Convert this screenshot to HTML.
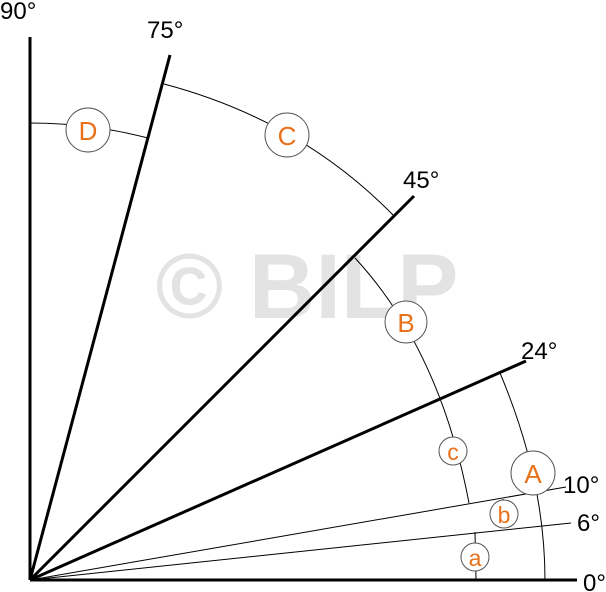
<!DOCTYPE html>
<html><head><style>
body{margin:0;background:#fff;}
svg{display:block;font-family:"Liberation Sans",sans-serif;}
</style></head><body>
<svg width="606" height="592" viewBox="0 0 606 592">
<text x="307" y="318" font-size="92" font-weight="bold" fill="#e3e3e3" text-anchor="middle">© BILP</text>
<g stroke="#000" fill="none" stroke-width="1">
<path d="M30,123 Q90,123 148,138"/>
<path d="M164,84 Q300,120 393,215"/>
<path d="M355,258 Q440,350 469,503"/>
<path d="M500,373 Q545,480 545,580"/>
<line x1="30" y1="580" x2="566" y2="487"/>
<line x1="30" y1="580" x2="571" y2="523"/>
<line x1="503" y1="499" x2="503" y2="527"/>
<line x1="475" y1="532" x2="476" y2="580"/>
</g>
<g stroke="#000" stroke-width="3" fill="none">
<line x1="30" y1="580" x2="30" y2="37"/>
<line x1="30" y1="580" x2="577" y2="580"/>
<line x1="30" y1="580" x2="170" y2="55"/>
<line x1="30" y1="580" x2="414" y2="196"/>
<line x1="30" y1="580" x2="526" y2="361"/>
</g>
<g fill="#fff" stroke="#555" stroke-width="1">
<circle cx="88" cy="130" r="22"/>
<circle cx="287" cy="135" r="22"/>
<circle cx="406" cy="322" r="21"/>
<circle cx="533" cy="473" r="22"/>
<circle cx="453" cy="451" r="14"/>
<circle cx="504" cy="514" r="14"/>
<circle cx="475" cy="557" r="14"/>
</g>
<g fill="#e8711a" font-size="26" text-anchor="middle">
<text x="88" y="140">D</text>
<text x="287" y="145">C</text>
<text x="406" y="332">B</text>
<text x="533" y="483">A</text>
<text x="453" y="460" font-size="23">c</text>
<text x="504" y="523" font-size="23">b</text>
<text x="475" y="566" font-size="23">a</text>
</g>
<g fill="#000" font-size="24">
<text x="0" y="19">90°</text>
<text x="147" y="38">75°</text>
<text x="403" y="188">45°</text>
<text x="521" y="359">24°</text>
<text x="563" y="493">10°</text>
<text x="577" y="531">6°</text>
<text x="583" y="591">0°</text>
</g>
</svg>
</body></html>
